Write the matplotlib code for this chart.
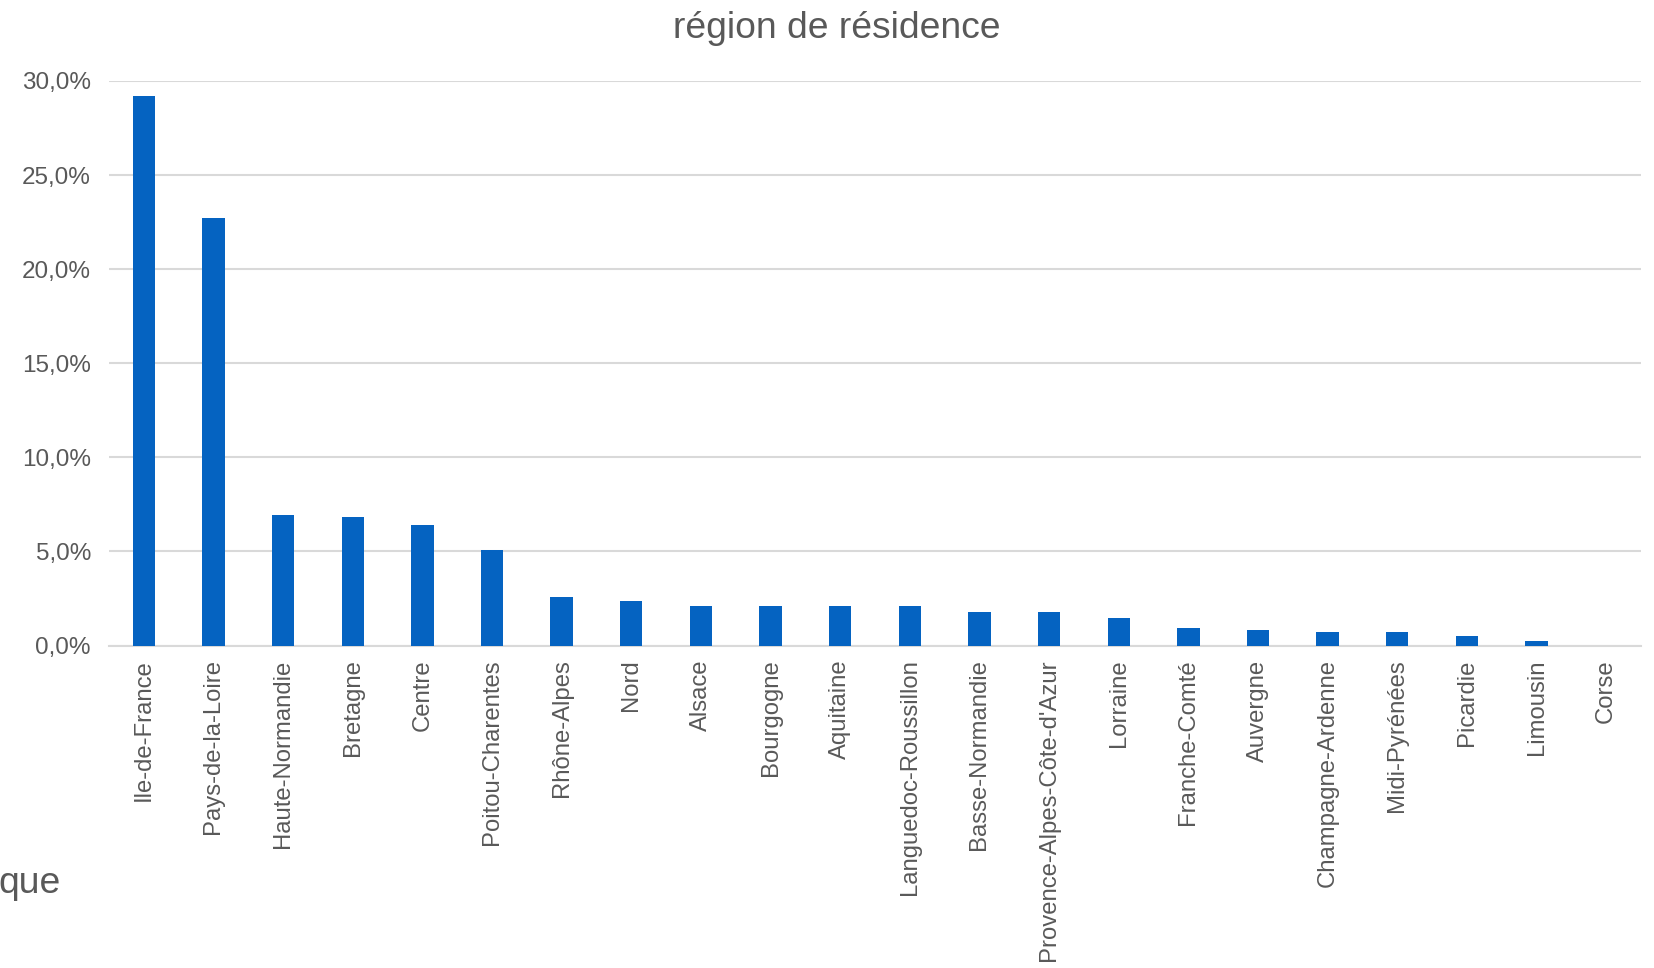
import matplotlib
matplotlib.use("Agg")
import matplotlib.pyplot as plt
from matplotlib.ticker import FuncFormatter

plt.rcParams['font.family'] = ['Liberation Sans', 'DejaVu Sans']

categories = ["Ile-de-France", "Pays-de-la-Loire", "Haute-Normandie", "Bretagne", "Centre",
              "Poitou-Charentes", "Rhône-Alpes", "Nord", "Alsace", "Bourgogne", "Aquitaine",
              "Languedoc-Roussillon", "Basse-Normandie", "Provence-Alpes-Côte-d'Azur", "Lorraine",
              "Franche-Comté", "Auvergne", "Champagne-Ardenne", "Midi-Pyrénées", "Picardie",
              "Limousin", "Corse"]
values = [29.2, 22.7, 6.95, 6.85, 6.4, 5.1, 2.6, 2.35, 2.1, 2.1, 2.1,
          2.1, 1.78, 1.76, 1.45, 0.95, 0.8, 0.71, 0.71, 0.48, 0.23, 0.0]
yticks = [0, 5, 10, 15, 20, 25, 30]
title = "région de résidence"
stray_text = "que"

grey = "#595959"
fig = plt.figure(figsize=(16.54, 9.68), dpi=100)
ax = fig.add_axes([109/1654, 1 - 645.5/968, (1641-109)/1654, (645.5-81)/968])

x = list(range(len(categories)))
ax.bar(x, values, width=0.32, color="#0563C1", zorder=3)

ax.set_xlim(-0.5, len(categories) - 0.5)
ax.set_ylim(0, 30)
ax.set_yticks(yticks)
ax.yaxis.set_major_formatter(FuncFormatter(lambda v, p: f"{v:.1f}".replace(".", ",") + "%"))
ax.grid(axis="y", color="#D9D9D9", linewidth=1.5, zorder=0)
ax.set_axisbelow(True)
for s in ["top", "right", "left"]:
    ax.spines[s].set_visible(False)
ax.spines["bottom"].set_color("#D9D9D9")
ax.spines["bottom"].set_linewidth(1.5)

ax.set_xticks(x)
ax.set_xticklabels(categories, rotation=90, fontsize=17.2, color=grey)
ax.tick_params(axis="x", length=0, pad=10)
ax.tick_params(axis="y", length=0, pad=13, labelsize=17.5, labelcolor=grey)

fig.text(836.5/1654, 1 - 38/968, title, ha="center", va="baseline", fontsize=26.8, color=grey)
fig.text(-2/1654, 1 - 893/968, stray_text, ha="left", va="baseline", fontsize=26.8, color=grey)

fig.savefig("out.png", dpi=100)
